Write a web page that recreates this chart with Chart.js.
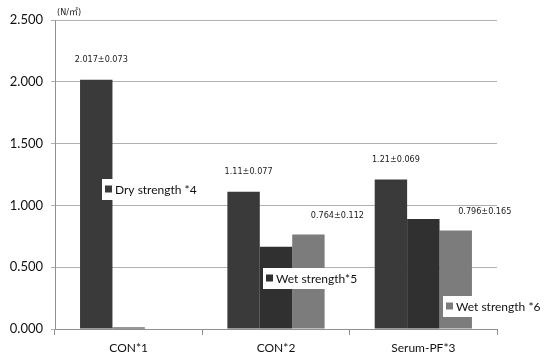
<!DOCTYPE html>
<html>
<head>
<meta charset="utf-8">
<script src="https://cdn.jsdelivr.net/npm/chart.js@4"></script>
<style>
  html, body { margin: 0; padding: 0; background: #fff; }
  #wrap { width: 548px; height: 364px; }
</style>
</head>
<body>
<div id="wrap"><canvas id="chart"></canvas></div>
<script>
const categories = ["CON*1", "CON*2", "Serum-PF*3"];
const dryStrength = [2.017, 1.11, 1.21];
const wetStrength5 = [0.012, 0.665, 0.89];
const wetStrength6 = [null, 0.764, 0.796];
const dryLabels = ["2.017±0.073", "1.11±0.077", "1.21±0.069"];
const wet6Labels = ["", "0.764±0.112", "0.796±0.165"];
const yTicks = [0, 0.5, 1, 1.5, 2, 2.5];

const mainFont = "Lato, 'Open Sans', sans-serif";
const narrowFont = "'Liberation Sans Narrow', 'DejaVu Sans Condensed', sans-serif";

// value labels above bars
const valueLabels = {
    id: "valueLabels",
    afterDatasetsDraw(chart) {
        const ctx = chart.ctx;
        ctx.save();
        ctx.font = "9px " + narrowFont;
        ctx.fillStyle = "#1a1a1a";
        ctx.textAlign = "center";
        ctx.textBaseline = "middle";
        const sets = [
            { index: 0, texts: dryLabels, dx: 5, dy: -20 },
            { index: 2, texts: wet6Labels, dx: 29, dy: -19 }
        ];
        sets.forEach(s => {
            chart.getDatasetMeta(s.index).data.forEach((bar, i) => {
                if (!s.texts[i]) return;
                ctx.fillText(s.texts[i], bar.x + s.dx, bar.y + s.dy);
            });
        });
        ctx.restore();
    }
};

// legend entries scattered inside the plot
const floatingLegend = {
    id: "floatingLegend",
    afterDatasetsDraw(chart) {
        const ctx = chart.ctx;
        const ds = chart.data.datasets;
        const spots = [
            { i: 0, x: 102, y: 189 },
            { i: 1, x: 263, y: 278 },
            { i: 2, x: 443, y: 306 }
        ];
        ctx.save();
        ctx.font = "12px " + mainFont;
        ctx.textBaseline = "middle";
        spots.forEach(s => {
            const text = ds[s.i].label;
            const w = ctx.measureText(text).width;
            ctx.fillStyle = "#fff";
            ctx.fillRect(s.x, s.y - 10, w + 17, 21);
            ctx.fillStyle = ds[s.i].backgroundColor;
            ctx.fillRect(s.x + 3, s.y - 3.5, 7, 7);
            ctx.fillStyle = "#111";
            ctx.fillText(text, s.x + 13, s.y + 1);
        });
        // unit
        ctx.font = "9px " + narrowFont + ", 'Noto Sans CJK JP'";
        ctx.fillStyle = "#222";
        ctx.fillText("(N/㎡)", chart.chartArea.left + 2, 13);
        ctx.restore();
    }
};

new Chart(document.getElementById("chart"), {
    type: "bar",
    data: {
        labels: categories,
        datasets: [
            { label: "Dry strength *4", data: dryStrength, backgroundColor: "#3a3a3a" },
            { label: "Wet strength*5", data: wetStrength5, backgroundColor: "#303030" },
            { label: "Wet strength *6", data: wetStrength6, backgroundColor: "#7c7c7c" }
        ]
    },
    options: {
        responsive: true,
        maintainAspectRatio: false,
        animation: false,
        layout: { padding: { top: 20, right: 51, left: 0, bottom: 0 } },
        datasets: { bar: { categoryPercentage: 0.66, barPercentage: 1 } },
        plugins: {
            legend: { display: false },
            tooltip: { enabled: false }
        },
        scales: {
            x: {
                grid: { display: true, drawOnChartArea: false, offset: true, color: "#909090", tickLength: 6 },
                border: { color: "#909090" },
                ticks: { color: "#111", font: { family: mainFont, size: 12 }, padding: 6 },
                afterFit: s => { s.height = 35; }
            },
            y: {
                min: 0,
                max: 2.5,
                afterBuildTicks: s => { s.ticks = yTicks.map(v => ({ value: v })); },
                grid: { color: "#b0b0b0", tickLength: 4 },
                border: { color: "#909090" },
                ticks: {
                    color: "#111",
                    font: { family: mainFont, size: 13 },
                    padding: 8,
                    callback: v => v.toFixed(3)
                },
                afterFit: s => { s.width = 55; }
            }
        }
    },
    plugins: [valueLabels, floatingLegend]
});
</script>
</body>
</html>
